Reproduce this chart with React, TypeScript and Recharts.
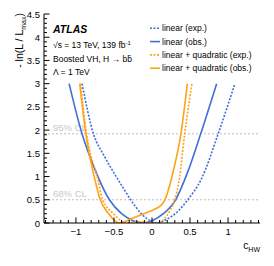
import { LineChart, Line, XAxis, YAxis, ReferenceLine } from "recharts";

// c_HW scan values
const linExpX = [-0.92, -0.77, -0.63, -0.49, -0.38, -0.28, -0.14, 0.08, 0.17, 0.32, 0.47, 0.65, 0.87, 1.09];
const linExpY = [3.0, 1.92, 1.45, 1.05, 0.76, 0.5, 0.2, 0.0, 0.06, 0.22, 0.5, 0.95, 1.92, 3.0];

const linObsX = [-1.09, -0.92, -0.75, -0.56, -0.4, -0.25, -0.1, 0.0, 0.15, 0.31, 0.47, 0.64, 0.85];
const linObsY = [3.0, 1.92, 1.15, 0.5, 0.2, 0.05, 0.0, 0.05, 0.2, 0.5, 1.1, 1.92, 3.0];

const lqExpX = [-0.94, -0.86, -0.71, -0.65, -0.51, -0.34, -0.2, -0.08, 0.06, 0.15, 0.24, 0.3, 0.36, 0.43, 0.525];
const lqExpY = [3.0, 1.92, 0.93, 0.5, 0.21, 0.0, 0.03, 0.02, 0.0, 0.07, 0.28, 0.5, 0.95, 1.92, 3.0];

const lqObsX = [-0.95, -0.87, -0.75, -0.68, -0.575, -0.43, -0.33, -0.23, -0.09, 0.04, 0.13, 0.17, 0.28, 0.38, 0.465];
const lqObsY = [3.0, 1.92, 0.93, 0.5, 0.21, 0.0, 0.05, 0.12, 0.21, 0.3, 0.4, 0.5, 1.12, 1.92, 3.0];

const xMajor = [-1, -0.5, 0, 0.5, 1];
const yMajor = [0, 0.5, 1, 1.5, 2, 2.5, 3, 3.5, 4, 4.5];
const clLevels = [0.5, 1.92];
const clLabels = ["68% CL", "95% CL"];

const BLUE = "#3f6fd8";
const ORANGE = "#ffa31a";
const FONT = '"Liberation Sans", Arial, sans-serif';

function zip(xs: number[], ys: number[]) {
  return xs.map((x, i) => ({ x, y: ys[i] }));
}

// minor ticks every 0.1
const xTicks: number[] = [];
for (let i = -14; i <= 14; i++) xTicks.push(i / 10);
const yTicks: number[] = [];
for (let i = 0; i <= 45; i++) yTicks.push(i / 10);

function isMajor(v: number, majors: number[]) {
  return majors.some((m) => Math.abs(m - v) < 1e-6);
}

function fmt(v: number) {
  if (Math.abs(v) < 1e-9) return "0";
  return (v < 0 ? "\u2212" : "") + String(Math.abs(v));
}

const BottomTick = (p: any) => {
  const v = p.payload.value;
  const major = isMajor(v, xMajor);
  return (
    <g>
      <line x1={p.x} x2={p.x} y1={p.y} y2={p.y - (major ? 5.5 : 3)} stroke="#000" />
      {major ? (
        <text x={p.x} y={p.y + 12} textAnchor="middle" fontSize={9.5} fontFamily={FONT} fill="#000">
          {fmt(v)}
        </text>
      ) : null}
    </g>
  );
};

const TopTick = (p: any) => {
  const major = isMajor(p.payload.value, xMajor);
  return <line x1={p.x} x2={p.x} y1={p.y} y2={p.y + (major ? 5.5 : 3)} stroke="#000" />;
};

const LeftTick = (p: any) => {
  const v = p.payload.value;
  const major = isMajor(v, yMajor);
  return (
    <g>
      <line x1={p.x} x2={p.x + (major ? 5.5 : 3)} y1={p.y} y2={p.y} stroke="#000" />
      {major ? (
        <text x={p.x - 4} y={p.y + 3.5} textAnchor="end" fontSize={9.5} fontFamily={FONT} fill="#000">
          {fmt(v)}
        </text>
      ) : null}
    </g>
  );
};

const RightTick = (p: any) => {
  const major = isMajor(p.payload.value, yMajor);
  return <line x1={p.x} x2={p.x - (major ? 5.5 : 3)} y1={p.y} y2={p.y} stroke="#000" />;
};

const legendRows = [
  { label: "linear (exp.)", color: BLUE, dash: "2 1.5" },
  { label: "linear (obs.)", color: BLUE, dash: undefined },
  { label: "linear + quadratic (exp.)", color: ORANGE, dash: "2 1.5" },
  { label: "linear + quadratic (obs.)", color: ORANGE, dash: undefined },
];

export default function App() {
  const series = [
    { data: zip(linExpX, linExpY), color: BLUE, dash: "2 1.5" },
    { data: zip(linObsX, linObsY), color: BLUE, dash: undefined },
    { data: zip(lqExpX, lqExpY), color: ORANGE, dash: "2 1.5" },
    { data: zip(lqObsX, lqObsY), color: ORANGE, dash: undefined },
  ];

  return (
    <div style={{ position: "absolute", left: 0, top: 0, width: 274, height: 266, background: "#fff" }}>
      <LineChart width={274} height={266} margin={{ top: 14, right: 14, bottom: 0, left: 0 }}>
        <XAxis
          xAxisId="b"
          type="number"
          dataKey="x"
          domain={[-1.42, 1.42]}
          ticks={xTicks}
          interval={0}
          height={43}
          tickSize={0}
          tickMargin={0}
          tickLine={false}
          axisLine={{ stroke: "#000" }}
          tick={<BottomTick />}
          allowDataOverflow
        />
        <XAxis
          xAxisId="t"
          orientation="top"
          type="number"
          dataKey="x"
          domain={[-1.42, 1.42]}
          ticks={xTicks}
          interval={0}
          height={0}
          tickSize={0}
          tickMargin={0}
          tickLine={false}
          axisLine={{ stroke: "#000" }}
          tick={<TopTick />}
          allowDataOverflow
        />
        <YAxis
          yAxisId="l"
          type="number"
          domain={[0, 4.5]}
          ticks={yTicks}
          interval={0}
          width={44}
          tickSize={0}
          tickMargin={0}
          tickLine={false}
          axisLine={{ stroke: "#000" }}
          tick={<LeftTick />}
          allowDataOverflow
        />
        <YAxis
          yAxisId="r"
          orientation="right"
          type="number"
          domain={[0, 4.5]}
          ticks={yTicks}
          interval={0}
          width={0}
          tickSize={0}
          tickMargin={0}
          tickLine={false}
          axisLine={{ stroke: "#000" }}
          tick={<RightTick />}
          allowDataOverflow
        />
        {clLevels.map((lv, i) => (
          <ReferenceLine
            key={lv}
            xAxisId="b"
            yAxisId="l"
            y={lv}
            stroke="#bbbbbb"
            strokeDasharray="2 2"
            label={(props: any) => (
              <text
                x={props.viewBox.x + 9}
                y={props.viewBox.y - 3}
                fontSize={9.5}
                fontFamily={FONT}
                fill="#c8c8c8"
              >
                {clLabels[i]}
              </text>
            )}
          />
        ))}
        {series.map((s, i) => (
          <Line
            key={i}
            xAxisId="b"
            yAxisId="l"
            data={s.data}
            dataKey="y"
            type="monotone"
            dot={false}
            stroke={s.color}
            strokeWidth={1.6}
            strokeDasharray={s.dash}
            isAnimationActive={false}
          />
        ))}
      </LineChart>
      <svg
        width={274}
        height={266}
        style={{ position: "absolute", left: 0, top: 0, pointerEvents: "none" }}
        fontFamily={FONT}
      >
        <text x={53} y={33} fontSize={10.5} fontWeight="bold" fontStyle="italic">
          ATLAS
        </text>
        <text x={53} y={48} fontSize={8.5}>
          √s = 13 TeV, 139 fb
          <tspan dy={-3} fontSize={6}>-1</tspan>
        </text>
        <text x={53} y={62} fontSize={8.5}>
          Boosted VH, H → bb̄
        </text>
        <text x={53} y={75} fontSize={8.5}>
          Λ = 1 TeV
        </text>
        {legendRows.map((r, i) => (
          <g key={r.label}>
            <line
              x1={150}
              x2={160}
              y1={28.3 + i * 13.3}
              y2={28.3 + i * 13.3}
              stroke={r.color}
              strokeWidth={1.6}
              strokeDasharray={r.dash}
            />
            <text x={162} y={31.3 + i * 13.3} fontSize={8.5}>
              {r.label}
            </text>
          </g>
        ))}
        <text x={260} y={249} textAnchor="end" fontSize={10}>
          c<tspan dy={2.5} fontSize={7}>HW</tspan>
        </text>
        <text x={23} y={13} textAnchor="end" fontSize={10.5} transform="rotate(-90, 23, 13)">
          - ln(L / L<tspan dy={2.5} fontSize={7}>max</tspan>
          <tspan dy={-2.5}>)</tspan>
        </text>
      </svg>
    </div>
  );
}
